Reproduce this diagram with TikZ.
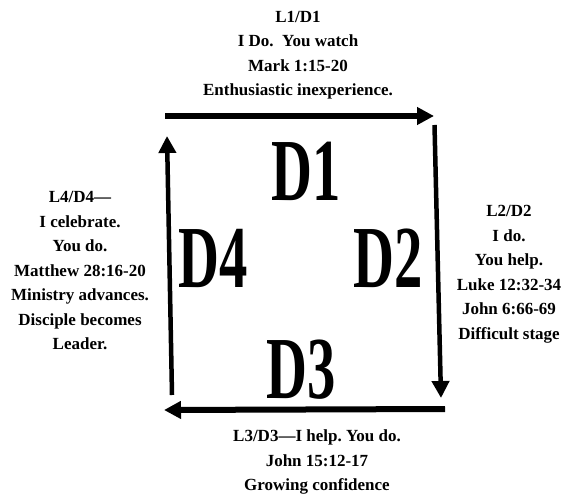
\documentclass[tikz,border=0pt]{standalone}
\usepackage{fontspec}
\setmainfont{Liberation Serif}
\usepackage{graphicx}
\usepackage{tikz}
\usetikzlibrary{arrows.meta,positioning}
\frenchspacing

\newcommand{\condensed}[1]{\scalebox{0.64}[1]{#1}}

\begin{document}
\begin{tikzpicture}[
  x=1pt, y=-1pt,
  stagelabel/.style={font=\bfseries\fontsize{17}{24.5}\selectfont, align=center, inner sep=0pt},
  bigletter/.style={font=\bfseries\fontsize{88.5}{90}\selectfont, inner sep=0pt},
  cyclearr/.style={-{Triangle[length=17pt,width=17pt]}, line width=6pt},
  sidearr/.style={cyclearr, line width=4.5pt}
]
  \useasboundingbox (0,0) rectangle (564,497);

  % --- Corners of the cycle ---
  \coordinate (topL) at (165,116);
  \coordinate (topR) at (434,116);
  \coordinate (rightT) at (434.5,125);
  \coordinate (rightB) at (441,398);
  \coordinate (botR) at (445,409);
  \coordinate (botL) at (164,410);
  \coordinate (leftB) at (172,395);
  \coordinate (leftT) at (167,136);

  % --- Arrows round the square ---
  \draw[cyclearr] (topL) -- (topR);
  \draw[sidearr] (rightT) -- (rightB);
  \draw[cyclearr] (botR) -- (botL);
  \draw[sidearr] (leftB) -- (leftT);

  % --- Big stage letters ---
  \node[bigletter] (d1) at (306,171) {\condensed{D1}};
  \node[bigletter] (d2) at (388,258) {\condensed{D2}};
  \node[bigletter] (d3) at (301,370) {\condensed{D3}};
  \node[bigletter] (d4) at (213.5,258.5) {\condensed{D4}};

  % --- Stage descriptions ---
  \node[stagelabel] (l1) at (298,55)
       {L1/D1\\I Do.\ \ You watch\\Mark 1:15-20\\Enthusiastic inexperience.};
  \node[stagelabel] (l2) at (509,274)
       {L2/D2\\I do.\\You help.\\Luke 12:32-34\\John 6:66-69\\Difficult stage};
  \node[stagelabel] (l3) at (317,462)
       {L3/D3---I help. You do.\\John 15:12-17\\Growing confidence};
  \node[stagelabel] (l4) at (80,271)
       {L4/D4---\\I celebrate.\\You do.\\Matthew 28:16-20\\Ministry advances.\\Disciple becomes\\Leader.};
\end{tikzpicture}
\end{document}
